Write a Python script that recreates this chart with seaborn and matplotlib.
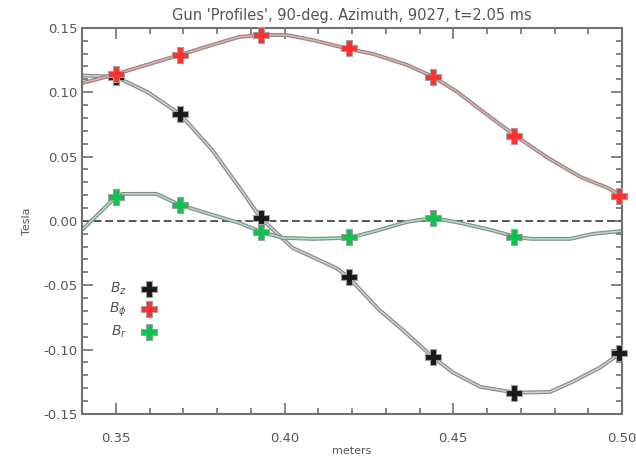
import numpy as np
import pandas as pd
import matplotlib
matplotlib.use('Agg')
import matplotlib.pyplot as plt
import matplotlib.patheffects as pe
from matplotlib.ticker import MultipleLocator
import seaborn as sns

# --- measured points (markers) ---
bz_x = [0.350, 0.369, 0.393, 0.419, 0.444, 0.468, 0.499]
bz_y = [0.112, 0.083, 0.002, -0.044, -0.106, -0.134, -0.103]
bphi_x = [0.350, 0.369, 0.393, 0.419, 0.444, 0.468, 0.499]
bphi_y = [0.114, 0.129, 0.1445, 0.134, 0.112, 0.066, 0.019]
br_x = [0.350, 0.369, 0.393, 0.419, 0.444, 0.468]
br_y = [0.0186, 0.0124, -0.0085, -0.0124, 0.0023, -0.0124]

# --- fitted profile curves ---
bz_cx = [0.340, 0.350, 0.3595, 0.369, 0.3786, 0.3866, 0.393, 0.4024, 0.4156, 0.419,
         0.428, 0.436, 0.444, 0.450, 0.458, 0.4685, 0.4786, 0.4854, 0.4935, 0.500]
bz_cy = [0.113, 0.112, 0.100, 0.083, 0.055, 0.026, 0.002, -0.021, -0.037, -0.044,
         -0.069, -0.087, -0.106, -0.118, -0.129, -0.1336, -0.133, -0.125, -0.114, -0.102]
bphi_cx = [0.340, 0.350, 0.3588, 0.369, 0.3786, 0.3866, 0.393, 0.4006, 0.4083, 0.419,
           0.4262, 0.4363, 0.444, 0.4512, 0.4589, 0.4685, 0.478, 0.4878, 0.4958, 0.500]
bphi_cy = [0.107, 0.114, 0.121, 0.129, 0.1368, 0.143, 0.1445, 0.1445, 0.1406, 0.1336,
           0.1298, 0.1212, 0.112, 0.1002, 0.0847, 0.066, 0.049, 0.034, 0.0256, 0.0194]
br_cx = [0.340, 0.350, 0.352, 0.362, 0.369, 0.3786, 0.3866, 0.393, 0.3994, 0.4083,
         0.419, 0.4262, 0.4363, 0.444, 0.452, 0.461, 0.4685, 0.473, 0.4846, 0.4914, 0.500]
br_cy = [-0.007, 0.0186, 0.021, 0.021, 0.0124, 0.0047, -0.0016, -0.0085, -0.0132, -0.014,
         -0.0132, -0.0085, -0.0008, 0.0023, -0.0016, -0.007, -0.0124, -0.014, -0.014, -0.0101, -0.0078]

series = [
    ('$B_z$', bz_cx, bz_cy, bz_x, bz_y, '#d0d0d0', '#1a1a1a'),
    ('$B_\\phi$', bphi_cx, bphi_cy, bphi_x, bphi_y, '#f4a8a8', '#ff3030'),
    ('$B_r$', br_cx, br_cy, br_x, br_y, '#a8e4c0', '#10c050'),
]

sns.set_style('ticks')
plt.rcParams['font.family'] = ['DejaVu Sans']

fig = plt.figure(figsize=(6.36, 4.65), dpi=100)
ax = fig.add_axes([0.129, 0.110, 0.849, 0.830])

grey = '#707070'
outline = [pe.Stroke(linewidth=2.8, foreground='#8a8a8a'), pe.Normal()]

ax.axhline(0, color='#555555', lw=1.4, ls=(0, (4, 2)), zorder=1)

for label, cx, cy, mx, my, lc, mc in series:
    curve = pd.DataFrame({'x': cx, 'y': cy})
    sns.lineplot(data=curve, x='x', y='y', ax=ax, color=lc, lw=1.1, sort=False,
                 path_effects=outline, zorder=2)
    pts = pd.DataFrame({'x': mx, 'y': my})
    sns.scatterplot(data=pts, x='x', y='y', ax=ax, color=mc, marker='P', s=130,
                    edgecolor='#a0a0a0', linewidth=0.8, zorder=3, label=label,
                    clip_on=False)

ax.set_xlim(0.34, 0.50)
ax.set_ylim(-0.15, 0.15)
ax.xaxis.set_major_locator(MultipleLocator(0.05))
ax.xaxis.set_minor_locator(MultipleLocator(0.01))
ax.yaxis.set_major_locator(MultipleLocator(0.05))
ax.yaxis.set_minor_locator(MultipleLocator(0.01))
ax.xaxis.set_major_formatter(matplotlib.ticker.FormatStrFormatter('%.2f'))
ax.yaxis.set_major_formatter(matplotlib.ticker.FormatStrFormatter('%.2f'))
ax.tick_params(which='both', direction='in', top=True, right=True, colors=grey,
               labelcolor='#555555', labelsize=9.5, width=1.2)
ax.tick_params(which='major', length=8)
ax.tick_params(which='minor', length=4)
ax.tick_params(axis='x', pad=13)
for sp in ax.spines.values():
    sp.set_visible(True)
    sp.set_color(grey)
    sp.set_linewidth(1.5)

ax.set_title("Gun 'Profiles', 90-deg. Azimuth, 9027, t=2.05 ms",
             color='#555555', fontsize=10.5, pad=6)
ax.set_xlabel('meters', color='#555555', fontsize=8, labelpad=1)
ax.set_ylabel('Tesla', color='#555555', fontsize=8, labelpad=8)

leg = ax.legend(loc='upper left', bbox_to_anchor=(0.04, 0.36), frameon=False,
                markerfirst=False, handletextpad=0.6, labelspacing=0.3,
                fontsize=10, borderaxespad=0)
for t in leg.get_texts():
    t.set_color('#555555')

fig.savefig('out.png', dpi=100)
